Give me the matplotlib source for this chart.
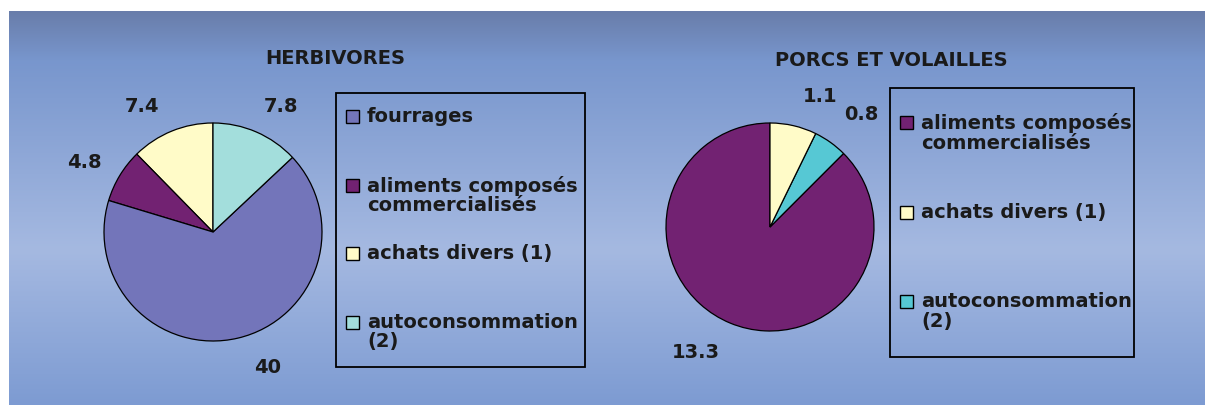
import numpy as np
import matplotlib
matplotlib.use('Agg')
import matplotlib.pyplot as plt
from matplotlib.patches import Rectangle

# donnees
herb_labels = ['achats divers (1)', 'aliments composés\ncommercialisés', 'fourrages', 'autoconsommation\n(2)']
herb_values = [7.4, 4.8, 40, 7.8]
herb_legend = ['fourrages', 'aliments composés\ncommercialisés', 'achats divers (1)', 'autoconsommation\n(2)']

porc_labels = ['aliments composés\ncommercialisés', 'autoconsommation\n(2)', 'achats divers (1)']
porc_values = [13.3, 0.8, 1.1]
porc_legend = ['aliments composés\ncommercialisés', 'achats divers (1)', 'autoconsommation\n(2)']

colors_herb = {'fourrages': '#7375BA', 'aliments composés\ncommercialisés': '#722272',
               'achats divers (1)': '#FFFBC8', 'autoconsommation\n(2)': '#A3DEDC'}
colors_porc = {'aliments composés\ncommercialisés': '#722272',
               'achats divers (1)': '#FFFBC8', 'autoconsommation\n(2)': '#56C8D4'}

# position des etiquettes (rayon = 1)
herb_lblpos = [(-0.65, 1.15), (-1.18, 0.64), (0.50, -1.24), (0.62, 1.15)]
porc_lblpos = [(-0.71, -1.21), (0.88, 1.08), (0.48, 1.25)]

W, H = 1205, 405
fig = plt.figure(figsize=(W / 100, H / 100), dpi=100)
fig.patch.set_facecolor('white')

# fond degrade
bg = fig.add_axes([0, 0, 1, 1])
bg.axis('off')
stops_y = [11, 60, 250, 405]
stops_c = np.array([[105, 125, 170], [120, 150, 205], [165, 185, 225], [125, 155, 210]]) / 255
yy = np.linspace(11, 405, 400)
grad = np.stack([np.interp(yy, stops_y, stops_c[:, k]) for k in range(3)], axis=1)
bg.imshow(grad[:, None, :], extent=(9, W, 405, 11), aspect='auto')
bg.set_xlim(0, W)
bg.set_ylim(H, 0)

font = dict(family='DejaVu Sans', weight='bold', color='#1a1a1a')


def pie_axes(cx, cy, r):
    return fig.add_axes([(cx - r) / W, 1 - (cy + r) / H, 2 * r / W, 2 * r / H])


def draw_pie(ax, values, labels, cmap, lblpos):
    ax.pie(values, startangle=90, counterclock=True, colors=[cmap[l] for l in labels],
           wedgeprops=dict(edgecolor='black', linewidth=0.9))
    for v, (x, y) in zip(values, lblpos):
        ax.text(x, y, str(v), fontsize=14, ha='center', va='center', **font)
    ax.set_xlim(-1, 1)
    ax.set_ylim(-1, 1)
    ax.set_aspect('equal')


def draw_legend(x0, y0, x1, y1, entries, cmap, first):
    bg.add_patch(Rectangle((x0, y0), x1 - x0, y1 - y0, fill=False, edgecolor='black', lw=1.3))
    pitch = (y1 - y0) / len(entries)
    for i, lab in enumerate(entries):
        yc = y0 + first + i * pitch
        bg.add_patch(Rectangle((x0 + 10, yc - 7), 13, 13, facecolor=cmap[lab], edgecolor='black', lw=1.0))
        bg.text(x0 + 31, yc - 10, lab, fontsize=14, va='top', ha='left', linespacing=1.05, **font)


# HERBIVORES
ax1 = pie_axes(213, 232, 109)
draw_pie(ax1, herb_values, herb_labels, colors_herb, herb_lblpos)
bg.text(335, 59, 'HERBIVORES', fontsize=14, ha='center', va='center', **font)
draw_legend(336, 93, 585, 367, herb_legend, colors_herb, 24)

# PORCS ET VOLAILLES
ax2 = pie_axes(770, 227, 104)
draw_pie(ax2, porc_values, porc_labels, colors_porc, porc_lblpos)
bg.text(891, 60, 'PORCS ET VOLAILLES', fontsize=14, ha='center', va='center', **font)
draw_legend(890, 88, 1134, 357, porc_legend, colors_porc, 35)

fig.savefig('out.png', dpi=100)
